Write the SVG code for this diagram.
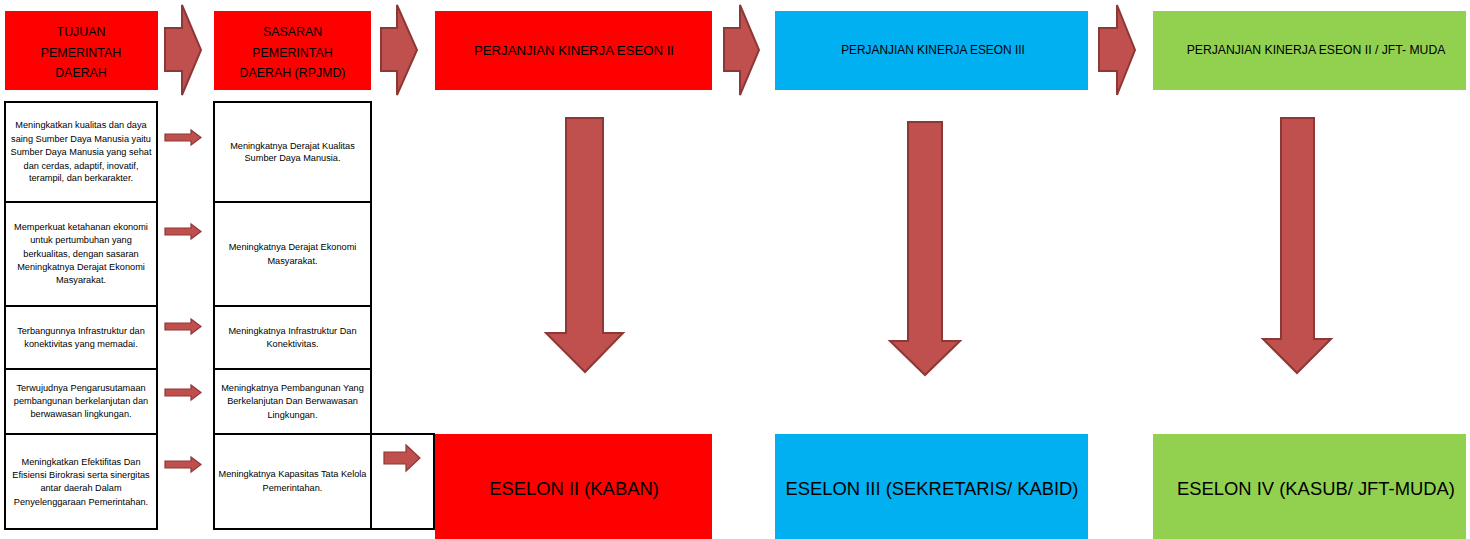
<svg xmlns="http://www.w3.org/2000/svg" width="1470" height="539" viewBox="0 0 1470 539">
<style>
text{font-family:"Liberation Sans",Arial,sans-serif;fill:#000;text-anchor:middle}
.s{font-size:9.2px}
.h{font-size:12.4px}
.big{font-size:18.4px}
.cell{fill:#fff;stroke:#000;stroke-width:2}
.red{fill:#FF0000}
.blue{fill:#00B0F0}
.green{fill:#92D050}
.arr{fill:#C0504D;stroke:#8C3836;stroke-width:2;stroke-linejoin:miter}
.sarr{fill:#C0504D;stroke:#8C3836;stroke-width:1.2}
</style>
<rect width="1470" height="539" fill="#fff"/>

<g id="h-tujuan">
<rect class="red" x="5" y="11" width="153" height="79"/>
<text class="h" x="81" y="35.5">TUJUAN</text>
<text class="h" x="81" y="56.5">PEMERINTAH</text>
<text class="h" x="81" y="76.5">DAERAH</text>
</g>
<g id="h-sasaran">
<rect class="red" x="214" y="11" width="157" height="79"/>
<text class="h" x="292.5" y="35.5">SASARAN</text>
<text class="h" x="292.5" y="56.5">PEMERINTAH</text>
<text class="h" x="292.5" y="76.5">DAERAH (RPJMD)</text>
</g>
<g id="h-pk2">
<rect class="red" x="435" y="11" width="277" height="79"/>
<text x="574" y="54.5" style="font-size:13.2px">PERJANJIAN KINERJA ESEON II</text>
</g>
<g id="h-pk3">
<rect class="blue" x="775" y="11" width="313" height="79"/>
<text x="933" y="54.3" style="font-size:11.9px">PERJANJIAN KINERJA ESEON III</text>
</g>
<g id="h-pk4">
<rect class="green" x="1153" y="11" width="313" height="79"/>
<text x="1316" y="54.4" style="font-size:12.2px">PERJANJIAN KINERJA ESEON II / JFT- MUDA</text>
</g>

<g id="t1">
<rect class="cell" x="5" y="102" width="152" height="100"/>
<text class="s" x="81" y="128">Meningkatkan kualitas dan daya</text>
<text class="s" x="81" y="142">saing Sumber Daya Manusia yaitu</text>
<text class="s" x="81" y="155">Sumber Daya Manusia yang sehat</text>
<text class="s" x="81" y="169">dan cerdas, adaptif, inovatif,</text>
<text class="s" x="81" y="181">terampil, dan berkarakter.</text>
</g>
<g id="t2">
<rect class="cell" x="5" y="202" width="152" height="104"/>
<text class="s" x="81" y="230">Memperkuat ketahanan ekonomi</text>
<text class="s" x="81" y="243">untuk pertumbuhan yang</text>
<text class="s" x="81" y="257">berkualitas, dengan sasaran</text>
<text class="s" x="81" y="270">Meningkatnya Derajat Ekonomi</text>
<text class="s" x="81" y="283">Masyarakat.</text>
</g>
<g id="t3">
<rect class="cell" x="5" y="306" width="152" height="63"/>
<text class="s" x="81" y="334">Terbangunnya Infrastruktur dan</text>
<text class="s" x="81" y="347">konektivitas yang memadai.</text>
</g>
<g id="t4">
<rect class="cell" x="5" y="369" width="152" height="65"/>
<text class="s" x="81" y="391">Terwujudnya Pengarusutamaan</text>
<text class="s" x="81" y="404">pembangunan berkelanjutan dan</text>
<text class="s" x="81" y="417">berwawasan lingkungan.</text>
</g>
<g id="t5">
<rect class="cell" x="5" y="434" width="152" height="95"/>
<text class="s" x="81" y="465">Meningkatkan Efektifitas Dan</text>
<text class="s" x="81" y="478">Efisiensi Birokrasi serta sinergitas</text>
<text class="s" x="81" y="491">antar daerah Dalam</text>
<text class="s" x="81" y="505">Penyelenggaraan Pemerintahan.</text>
</g>

<g id="s1">
<rect class="cell" x="214" y="102" width="157" height="100"/>
<text class="s" x="292.5" y="149">Meningkatnya Derajat Kualitas</text>
<text class="s" x="292.5" y="161">Sumber Daya Manusia.</text>
</g>
<g id="s2">
<rect class="cell" x="214" y="202" width="157" height="104"/>
<text class="s" x="292.5" y="250">Meningkatnya Derajat Ekonomi</text>
<text class="s" x="292.5" y="264">Masyarakat.</text>
</g>
<g id="s3">
<rect class="cell" x="214" y="306" width="157" height="63"/>
<text class="s" x="292.5" y="334">Meningkatnya Infrastruktur Dan</text>
<text class="s" x="292.5" y="347">Konektivitas.</text>
</g>
<g id="s4">
<rect class="cell" x="214" y="369" width="157" height="65"/>
<text class="s" x="292.5" y="391">Meningkatnya Pembangunan Yang</text>
<text class="s" x="292.5" y="404">Berkelanjutan Dan Berwawasan</text>
<text class="s" x="292.5" y="418">Lingkungan.</text>
</g>
<g id="s5">
<rect class="cell" x="214" y="434" width="157" height="95"/>
<text class="s" x="292.5" y="477">Meningkatnya Kapasitas Tata Kelola</text>
<text class="s" x="292.5" y="491">Pemerintahan.</text>
</g>
<g id="s5-extra">
<rect class="cell" x="371" y="434" width="63" height="95"/>
</g>

<g id="e2">
<rect class="red" x="435" y="434" width="277" height="110"/>
<text class="big" x="574" y="494.6">ESELON II (KABAN)</text>
</g>
<g id="e3">
<rect class="blue" x="775" y="434" width="313" height="110"/>
<text class="big" x="932" y="494.6">ESELON III (SEKRETARIS/ KABID)</text>
</g>
<g id="e4">
<rect class="green" x="1153" y="434" width="313" height="110"/>
<text class="big" x="1316" y="494.6">ESELON IV (KASUB/ JFT-MUDA)</text>
</g>

<g id="connectors">
<polygon class="arr" points="165,28 182,28 182,5 201,50 182,95 182,71 165,71"/>
<polygon class="arr" points="381,28 397,28 397,5 417,50 397,95 397,71 381,71"/>
<polygon class="arr" points="724,28 740,28 740,5 759,50 740,95 740,71 724,71"/>
<polygon class="arr" points="1099,28 1117,28 1117,5 1135,50 1117,95 1117,71 1099,71"/>

<polygon class="sarr" points="165,134 191,134 191,130 201,137.5 191,145 191,141 165,141"/>
<polygon class="sarr" points="165,228 191,228 191,224 201,231.5 191,239 191,235 165,235"/>
<polygon class="sarr" points="165,323 191,323 191,319 201,326.5 191,334 191,330 165,330"/>
<polygon class="sarr" points="165,389 191,389 191,385 201,392.5 191,400 191,396 165,396"/>
<polygon class="sarr" points="165,461 191,461 191,457 201,464.5 191,472 191,468 165,468"/>
<polygon class="sarr" points="384,452 406,452 406,445 420,458 406,471 406,464 384,464"/>

<polygon class="arr" points="566,118 603,118 603,333 623,333 585,372 546,333 566,333"/>
<polygon class="arr" points="908,122 942,122 942,341 960,341 925,375 890,341 908,341"/>
<polygon class="arr" points="1281,118 1314,118 1314,339 1331,339 1297,373 1263,339 1281,339"/>
</g>
</svg>
